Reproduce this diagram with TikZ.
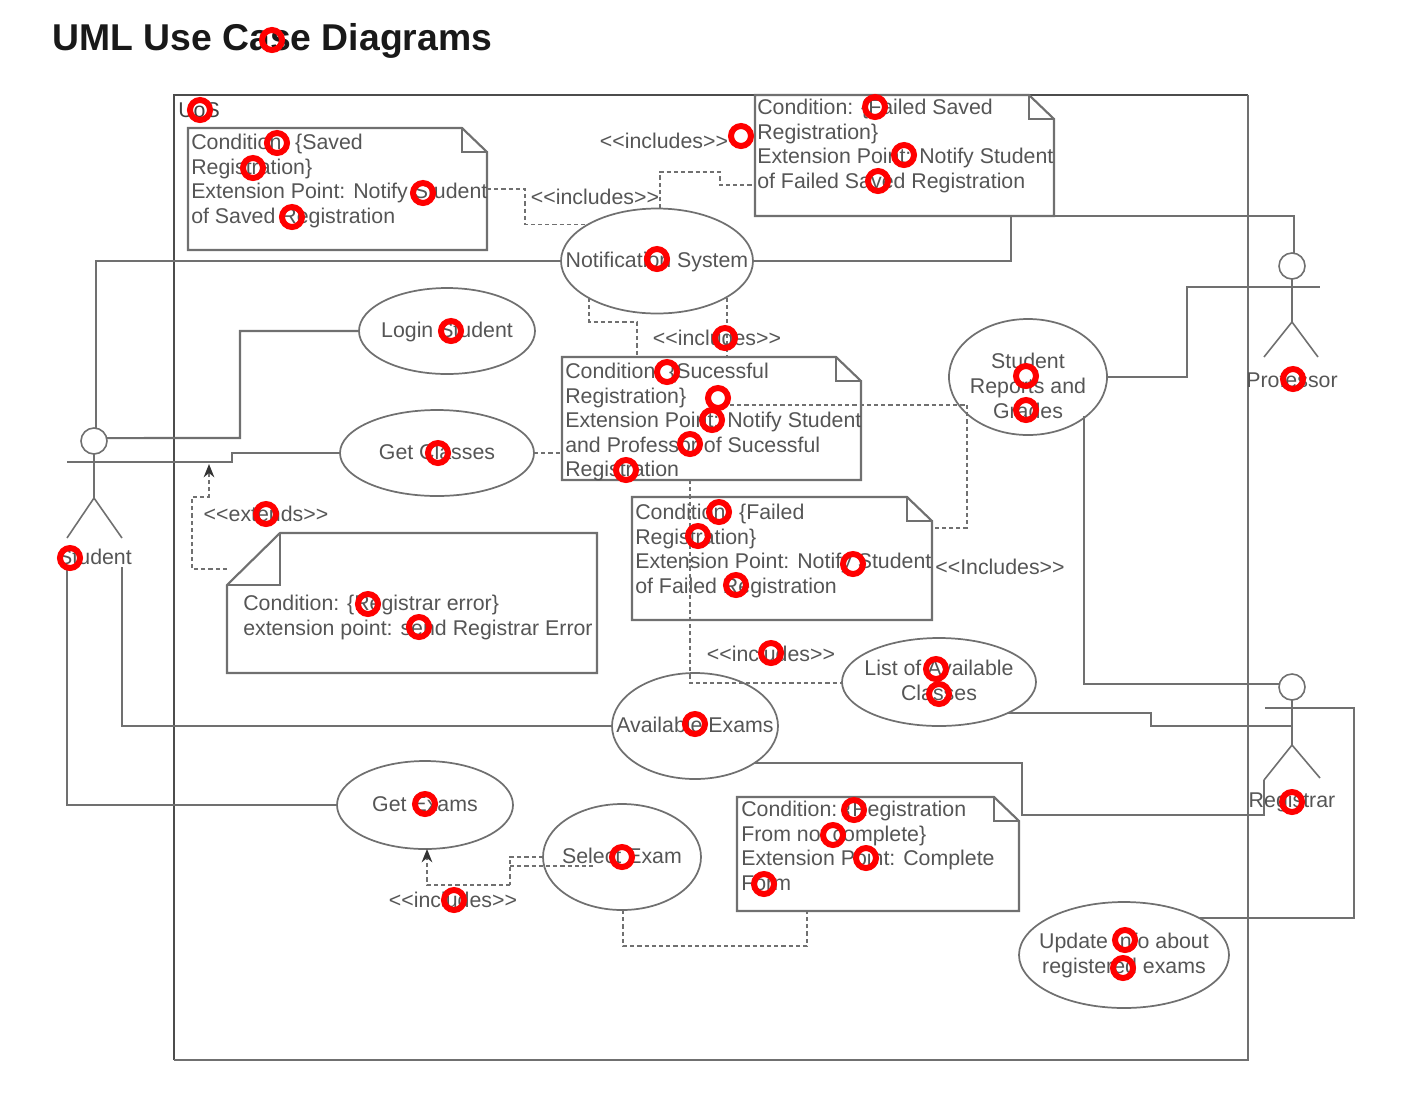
\documentclass[tikz,border=0pt]{standalone}
\usepackage{fontspec}
\setmainfont{Liberation Sans}
\usetikzlibrary{shapes.geometric,arrows.meta}
\definecolor{ink}{HTML}{555555}
\definecolor{wire}{HTML}{707070}
\newcommand{\ctr}[2][-5.2pt]{\raisebox{#1}[0pt][0pt]{\makebox[0pt][c]{\begin{tabular}{@{}c@{}}#2\end{tabular}}}}
\newcommand{\incl}{<{}<includes>{}>}
\newcommand{\notebox}[5]{%
  \node[notebase,minimum width={(#4-#2)*0.75pt},minimum height={(#5-#3)*0.75pt}] (#1) at ({(#2+#4)/2},{(#3+#5)/2}) {};
  \draw[wire line] (#1.north west) -- ([xshift=-18.75pt]#1.north east) -- ([yshift=-18pt]#1.north east) -- (#1.south east) -- (#1.south west) -- cycle;
  \draw[wire line] ([xshift=-18.75pt]#1.north east) -- ([xshift=-18.75pt,yshift=-18pt]#1.north east) -- ([yshift=-18pt]#1.north east);
}
\tikzset{
  wire line/.style={draw=wire,line width=1.6pt},
  thin wire/.style={draw=wire,line width=1.2pt},
  dash line/.style={draw=wire,line width=1.2pt,dash pattern=on 3.2pt off 2.2pt},
  notebase/.style={inner sep=0pt,outer sep=0pt},
  notetext/.style={anchor=north west,inner sep=0pt,align=left,text=ink,font=\fontsize{16}{18.4}\selectfont},
  lbl/.style={inner sep=0pt,text=ink,font=\fontsize{16}{18.4}\selectfont},
  uc/.style 2 args={ellipse,draw=wire,line width=1.3pt,inner sep=0pt,outer sep=0pt,text=ink,
    font=\fontsize{16}{18.4}\selectfont,minimum width=#1*0.75pt,minimum height=#2*0.75pt},
  head/.style={circle,draw=wire,line width=1.2pt,inner sep=0pt,outer sep=0pt,minimum size=19.5pt},
  marker/.style={circle,draw=red,line width=4.5pt,inner sep=0pt,outer sep=0pt,minimum size=15pt},
  solid tip/.style={-{Stealth[length=10pt,width=8pt,black!80]}}
}
\begin{document}
\begin{tikzpicture}[x=0.75pt,y=-0.75pt]
\useasboundingbox (0,0) rectangle (1403,1108);
\node[anchor=west,inner sep=0pt,font=\fontsize{28}{32}\selectfont\bfseries,text=black!90] (title) at (52,41) {UML Use Case Diagrams};
% frame
\node[inner sep=0pt,outer sep=0pt,minimum width=805.5pt,minimum height=723.75pt] (frame) at (711,577.5) {};
\draw[draw=black!70,line width=1.1pt] (frame.south west) -- (frame.north west) -- (frame.north east);
\draw[draw=wire,line width=1.6pt] (frame.north east) -- (frame.south east) -- (frame.south west);
\node[lbl,text=black!75] (sys) at (199,110) {UoS};
% notes
\notebox{n1}{188}{128}{487}{250}
\node[notetext] (n1t) at (191,134) {Condition: \{Saved\\Registration\}\\Extension Point: Notify Student\\of Saved Registration};
\notebox{n2}{755}{95}{1054}{216}
\node[notetext] (n2t) at (757,99) {Condition: \{Failed Saved\\Registration\}\\Extension Point: Notify Student\\of Failed Saved Registration};
\notebox{n3}{562}{357}{861}{480}
\node[notetext] (n3t) at (565,363) {Condition: \{Sucessful\\Registration\}\\Extension Point: Notify Student\\and Professor of Sucessful\\Registration};
\notebox{n4}{632}{497}{932}{620}
\node[notetext] (n4t) at (635,504) {Condition: \{Failed\\Registration\}\\Extension Point: Notify Student\\of Failed Registration};
\notebox{n6}{737}{797}{1019}{911}
\node[notetext] (n6t) at (741,801) {Condition: \{Registration\\From not complete\}\\Extension Point: Complete\\Form};
% note with fold at the upper left
\node[notebase,minimum width=277.5pt,minimum height=105pt] (n5) at (412,603) {};
\draw[wire line] ([xshift=39.75pt]n5.north west) -- (n5.north east) -- (n5.south east) -- (n5.south west) -- ([yshift=-39pt]n5.north west) -- cycle;
\draw[wire line] ([xshift=39.75pt]n5.north west) -- ([xshift=39.75pt,yshift=-39pt]n5.north west) -- ([yshift=-39pt]n5.north west);
\node[notetext] (n5t) at (243,595) {Condition: \{Registrar error\}\\extension point: send Registrar Error};
% use cases
\node[uc={192}{105}] (notif) at (657,261) {\ctr{Notification System}};
\node[uc={176}{86}] (login) at (447,331) {\ctr{Login Student}};
\node[uc={194}{86}] (getc) at (437,453) {\ctr{Get Classes}};
\node[uc={158}{116}] (reports) at (1028,377) {\ctr[-13pt]{Student\\Reports and\\Grades}};
\node[uc={194}{88}] (listc) at (939,682) {\ctr{List of Available\\Classes}};
\node[uc={166}{106}] (avail) at (695,726) {\ctr{Available Exams}};
\node[uc={176}{88}] (gete) at (425,805) {\ctr{Get Exams}};
\node[uc={158}{106}] (sele) at (622,857) {\ctr{Select Exam}};
\node[uc={210}{106}] (upd) at (1124,955) {\ctr{Update Info about\\registered exams}};
% actors
\node[head] (stuH) at (94,441) {};
\coordinate (stuHip) at (94,498);
\coordinate (stuArmL) at (67,462);
\coordinate (stuFootL) at (67,538);
\coordinate (stuFootR) at (122,538);
\draw[thin wire] (stuH.south) -- (stuHip) (stuFootL) -- (stuHip) -- (stuFootR);
\node[lbl] (stuL) at (95,557) {Student};
\node[head] (proH) at (1292,266) {};
\coordinate (proHip) at (1292,322);
\coordinate (proArmR) at (1320,287);
\coordinate (proFootL) at (1264,357);
\coordinate (proFootR) at (1318,357);
\draw[thin wire] (proH.south) -- (proHip) (proFootL) -- (proHip) -- (proFootR);
\node[lbl] (proL) at (1292,380) {Professor};
\node[head] (regH) at (1292,687) {};
\coordinate (regHip) at (1292,745);
\coordinate (regArmL) at (1265,708);
\coordinate (regFootL) at (1264,780);
\coordinate (regFootR) at (1320,778);
\coordinate (regWaist) at (1292,726);
\draw[thin wire] (regH.south) -- (regHip) (regFootL) -- (regHip) -- (regFootR);
\node[lbl] (regL) at (1292,802) {Registrar};
% solid connectors
\draw[wire line] (stuArmL) -- (232,462) -- (232,453) -- (getc.west);
\draw[wire line] (stuH.13) -- (240,438) -- (240,331) -- (login.west);
\draw[wire line] (stuH.north -| 96,0) -- (notif.west -| 96,0) -- (notif.west);
\draw[wire line] (notif.east) -- (1011,261) -- (1011,216) -- (1294,216) -- (proH.north -| 1294,0);
\draw[wire line] (reports.east) -- (1187,377) -- (1187,287) -- (proArmR);
\draw[wire line] (122,567) -- (avail.west -| 122,0) -- (avail.west);
\draw[wire line] (stuL.south west -| stuFootL) -- (gete.west -| stuFootL) -- (gete.west);
\draw[wire line] (reports.-35) -- (reports.-35 -| 1084,0) -- (1084,684) -- (regH.west |- 0,684);
\draw[wire line] (listc.-24) -- (listc.-24 -| 1151,0) -- (1151,726) -- (regWaist);
\draw[wire line] (regArmL) -- (1354,708) -- (upd.26 -| 1354,0) -- (upd.26);
\draw[wire line] (avail.-32) -- (avail.-32 -| 1022,0) -- (1022,815) -- (1264,815) -- (regFootL);
% dashed connectors
\coordinate (jR) at (967,405);
\draw[dash line] (n1.east |- 0,189) -- (525,189) -- (notif.152 -| 525,0) -- (notif.152);
\draw[dash line] (notif.north -| 660,0) -- (660,172) -- (720,172) -- (720,185) -- (n2.west |- 0,185);
\draw[dash line] (notif.-151) -- (notif.-151 -| 589,0) -- (589,322) -- (637,322) -- (n3.north -| 637,0);
\draw[dash line] (notif.-28 -| 727,0) -- (727,357);
\draw[dash line] (730,405) -- (jR);
\draw[dash line] (jR) -- (967,528) -- (n4.east |- 0,528);
\draw[dash line] (getc.east) -- (n3.west |- 0,453);
\draw[dash line] (n3.south -| 690,0) -- (690,683) -- (listc.west |- 0,683);
\draw[dash line,solid tip] (n5.north west |- 0,569) -- (192,569) -- (192,497) -- (209,497) -- (209,464);
\draw[dash line] (sele.west) -- (510,857) -- (510,885);
\draw[dash line] (510,866) -- (595,866);
\draw[dash line,solid tip] (510,885) -- (427,885) -- (gete.south -| 427,0);
\draw[dash line] (sele.south -| 623,0) -- (623,946) -- (807,946) -- (n6.south -| 807,0);
% connector labels
\node[lbl] (inc1) at (664,141) {\incl};
\node[lbl] (inc2) at (595,197) {\incl};
\node[lbl] (inc3) at (717,338) {\incl};
\node[lbl] (inc4) at (1000,567) {<{}<Includes>{}>};
\node[lbl] (inc5) at (771,654) {\incl};
\node[lbl] (inc6) at (453,900) {\incl};
\node[lbl] (ext1) at (266,514) {<{}<extends>{}>};
% red ring markers
\foreach \x/\y [count=\i] in {272/40,200/110,277/143,253/168,423/193,292/217,741/136,875/107,904/155,878/181,657/259,451/331,725/338,667/372,718/398,712/420,690/444,626/470,1026/376,1026/410,1293/379,438/453,266/514,70/558,719/512,698/536,853/564,736/585,368/604,419/627,771/653,936/669,939/694,695/724,1292/802,425/804,854/810,833/835,866/858,764/884,622/857,454/900,1125/940,1123/968}
  \node[marker] (m\i) at (\x,\y) {};
\end{tikzpicture}
\end{document}
